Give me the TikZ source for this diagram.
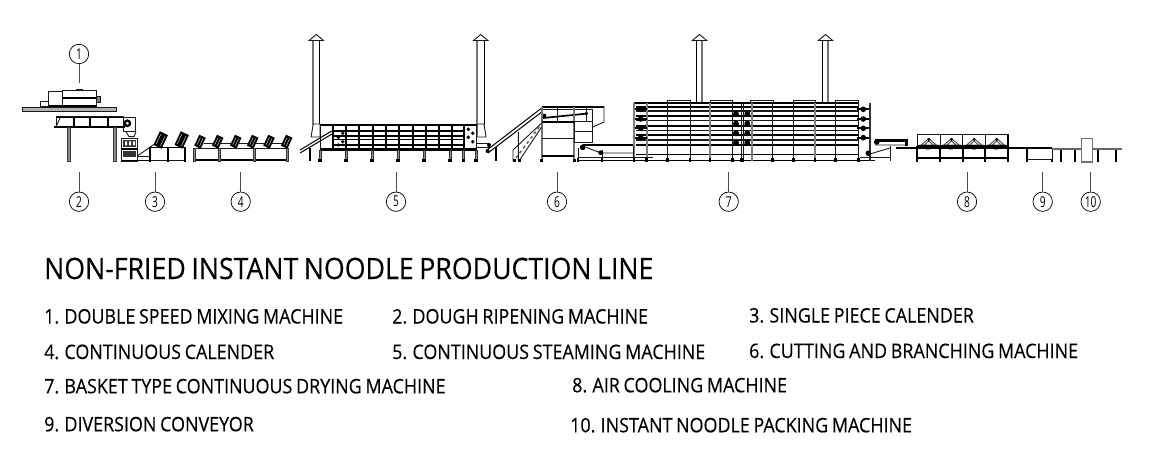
\documentclass[tikz,border=0pt]{standalone}
\usepackage{fontspec}
\setmainfont{Open Sans}
\newfontfamily\numfont[FakeStretch=0.68]{Open Sans}
\newfontfamily\capfont[FakeStretch=0.895,FakeBold=0.25,WordSpace=0.8]{Open Sans}
\newfontfamily\topfont[FakeStretch=0.908,FakeBold=0.25,WordSpace=0.8]{Open Sans}

\newcommand{\feedroll}[4]{%
  \fill[rotate around={-25:(#1,#2)}, black] (#1-#3,#2-#4) rectangle (#1+#3,#2+#4);
  \draw[rotate around={-25:(#1,#2)}, white, line width=0.35pt] (#1-#3+2.2,#2-#4+2) -- (#1-#3+2.2,#2+#4-2) (#1+#3-2.2,#2-#4+2) -- (#1+#3-2.2,#2+#4-2);
}
\newcommand{\stack}[2]{%
  \draw[bar] (#1-6,#2) -- (#1+6,#2);
  \fill[black] (#1,#2) circle (2.8);
}
\newcommand{\chimney}[5]{% x centre, half width, y bottom, left and right style
  \draw[#4] (#1-#2,#3) -- (#1-#2,40.5);
  \draw[#5] (#1+#2,#3) -- (#1+#2,40.5);
  \draw[mline, fill=white] (#1-7.2,40.5) -- (#1,34.5) -- (#1+7.2,40.5) -- cycle;
}

\begin{document}
\begin{tikzpicture}[
    x=1pt, y=-1pt,
    callout/.style={circle, draw, line width=0.7pt, minimum size=19.4pt, inner sep=0pt, font=\numfont\fontsize{15}{15}\selectfont},
    leader/.style={line width=0.9pt, black!70},
    mline/.style={line width=0.9pt, black!90},
    bar/.style={line width=1.7pt, black},
    gline/.style={line width=2.4pt, black!50},
    pipe/.style={line width=1pt, black},
    gpipe/.style={line width=1.9pt, black!55},
    post/.style={line width=0.6pt, black!80, fill=black!45},
    item/.style={anchor=base west, inner sep=0pt, font=\capfont\fontsize{20}{20}\selectfont},
    headline/.style={anchor=base west, inner sep=0pt, font=\topfont\fontsize{29.4}{29.4}\selectfont}
]
    \useasboundingbox (0,0) rectangle (1156,465);

    % 1 mixing machine
    \draw[mline, fill=black!30] (22.7,107.7) rectangle (116.7,111);
    \draw[mline] (48.3,91) rectangle (62,106.7);
    \draw[mline] (62,90) rectangle (96,106.7);
    \draw[bar] (62,98.3) -- (96,98.3) (48,106.2) -- (96,106.2);
    \draw[mline] (40.7,101) rectangle (48.3,106.7);
    \draw[mline, fill=black!50] (96,96) rectangle (100,102);
    \draw[mline] (76,90) -- (76,89) -- (82,89) -- (82,90);

    % 2 ripening machine
    \draw[mline] (56,116.7) rectangle (123,127);
    \draw[bar] (56,117.5) -- (135,117.5) (54,127) -- (125,127);
    \foreach \px in {74,90,108} \draw[bar] (\px,117.5) -- (\px,127);
    \draw[mline] (60,118) -- (56,127);
    \draw[mline] (123,117) rectangle (135,131.7);
    \fill[black] (127.3,123.3) circle (4);
    \fill[white] (127.3,123.3) circle (1.5);
    \foreach \px in {69,115} \draw[post] (\px-1.5,127) rectangle (\px+1.5,161.5);

    % 3 single piece calender
    \draw[mline] (126,131.7) -- (129,136.7) -- (134,136.7) -- (136,131.7);
    \draw[mline] (121.7,138) rectangle (137.3,161.7);
    \fill[black!80] (123,140) rectangle (136,147);
    \fill[white] (125,141.5) rectangle (127,145.5) (129,141.5) rectangle (131,145.5) (133,141.5) rectangle (135,145.5);
    \fill[black!80] (123,151) rectangle (136,157);
    \draw[bar] (121.7,149) -- (137.3,149) (121.7,160.5) -- (185,160.5);
    \draw[mline] (137.3,156) -- (156,143);
    \draw[mline] (150,147.5) rectangle (168,160.5);
    \draw[mline] (168,147.5) rectangle (185,160.5);
    \draw[mline] (137,156.5) -- (150,156.5);
    \draw[bar] (150,147.5) -- (185,147.5);
    \foreach \px in {150,168,185} \draw[bar] (\px,147.5) -- (\px,161.7);
    \feedroll{160.7}{140}{4.5}{7.5}
    \feedroll{181.7}{140}{4.5}{7.5}

    % 4 continuous calender
    \draw[mline] (194,148) rectangle (288,160);
    \draw[bar] (194,159.8) -- (288,159.8);
    \foreach \px in {194,219.3,254,287.3} \draw[post] (\px-1,148) rectangle (\px+1,161.7);
    \foreach \px in {200,217.7,235.7,252.7,269,286.7} \feedroll{\px}{141.7}{3.6}{6}
    \draw[mline] (204,143) -- (214,143) (221,143) -- (232,143) (239,143) -- (249,143) (256,143) -- (265,143) (272,143) -- (282,143);

    % 5 continuous steaming machine
    \chimney{316.3}{3}{125}{gpipe}{pipe}
    \chimney{480.7}{3.3}{125}{gpipe}{pipe}
    \draw[mline, fill=white] (313.3,124) -- (311,137) -- (320,137) -- (320,124) -- cycle;
    \draw[mline, fill=white] (477.3,124) -- (484,124) -- (486,137) -- (477,137) -- cycle;
    \draw[mline] (320,125) rectangle (476.7,150);
    \draw[bar] (320,125) -- (476.7,125);
    \draw[bar, line width=2.2pt] (320,149.5) -- (476.7,149.5);
    \foreach \py in {131,136,139.3,145} \draw[bar, line width=1.2pt] (333,\py) -- (465,\py);
    \foreach \px in {333.3,346,359.3,372.7,386,399.3,412.7,426,439.3,451.7,464} \draw[bar, line width=2pt] (\px,125) -- (\px,150);
    \foreach \px in {320,346,372,398,424,450,463.3,476} {
      \draw[post] (\px-1,150) rectangle (\px+1,161);
      \fill[black] (\px-1.6,159.5) rectangle (\px+1.6,161.7);
    }
    \draw[bar] (310,148) -- (310,161.5);
    \foreach \px/\py in {342.7/133.3,338.3/137.3,342.7/141.7,338.3/145,468.3/129.3,472.7/133.3,468.3/137.3,472.7/141.7}
      \fill[black] (\px,\py) circle (1.9);
    % feed belt in front of the steamer
    \draw[pipe] (300,150) -- (331.7,131) (300,153) -- (332,134);
    \draw[mline] (476.7,143) rectangle (489,147);
    \fill[black] (489,145) circle (2);

    % 6 cutting and branching machine
    \draw[pipe] (487,150) -- (541.7,108) (488,153) -- (541.7,112);
    \fill[black] (487.5,151) circle (2);
    \draw[bar] (495.7,147) -- (495.7,161.5);
    \draw[bar] (541.7,106.7) -- (604,106.7);
    \draw[mline] (592.7,106.7) -- (604,106.7) -- (604,122) -- (592.7,127);
    \draw[mline] (541.7,109) rectangle (592.7,121.7);
    \foreach \px in {557,573,586} \draw[mline] (\px,106.7) -- (\px,121.7);
    \draw[bar] (543,118) -- (588,113.5);
    \fill[black] (544,116) circle (2.4) (586,113.5) circle (1.6);
    \draw[gpipe] (541.7,106.7) -- (541.7,161);
    \draw[gpipe] (574,106.7) -- (574,161);
    \draw[bar] (541.7,121.7) -- (574,121.7) (541.7,155.7) -- (574,155.7);
    \draw[mline] (541.7,138.3) -- (574,138.3);
    \draw[mline] (574,121.7) rectangle (592.7,142.7);
    \draw[mline] (574,131.7) -- (592.7,131.7);
    \draw[mline] (513,161) -- (513,150) -- (541.7,123) (519,161) -- (541.7,127) (518.3,132) -- (518.3,161);
    \draw[black!60, dashed, line width=1.5pt] (516,158) -- (540,126);
    \foreach \px in {514,519,541.7,574} \fill[black] (\px-1.5,159.5) rectangle (\px+1.5,161.7);

    % 7 basket type continuous drying machine
    \chimney{699.5}{2.8}{103}{pipe}{gpipe}
    \chimney{825.5}{2.8}{103}{pipe}{gpipe}
    \foreach \px in {667.7,710,750.7,793.3,835.7} \draw[mline] (\px,103) -- (\px,100) -- (\px+22.3,100) -- (\px+22.3,103);
    \draw[bar] (634,103.3) -- (858.3,103.3) (578,160.5) -- (875,160.5);
    \foreach \py in {106.7,116,125.7,135,144.7} \draw[bar] (636,\py) -- (858.3,\py);
    \foreach \py in {111,120.7,130.3,140} \draw[mline, line width=1.1pt] (636,\py) -- (858.3,\py);
    \draw[bar, line width=1.2pt] (636,154.3) -- (858.3,154.3);
    \foreach \px in {667.7,690,732.7,741,743,772.7,793.3,835.7,858.3} \draw[mline] (\px,103) -- (\px,161);
    \foreach \px in {634,646.7,710,751.7,815} \draw[gline] (\px,103) -- (\px,161);
    \foreach \py in {109.3,119,128.3,137.7} {
      \stack{640.7}{\py}
      \stack{863.3}{\py}
    }
    \foreach \py in {114,123.7,133.3,142.7} {
      \fill[black] (736,\py) circle (3);
      \fill[black] (747.3,\py) circle (3);
    }
    \foreach \px in {578,602,634,646.7,667.7,690,710,732.7,741,743,772.7,793.3,815,835.7,858.3}
      \fill[black] (\px-1.4,158.5) rectangle (\px+1.4,161.7);
    % feed conveyor under cutter
    \draw[bar] (583,145) -- (633,145);
    \draw[mline] (586,147.3) -- (601,153) -- (633,153);
    \draw[mline] (578,157) -- (653,157) (578,148) -- (578,161) (602,150) -- (602,161) (633,146) -- (633,161);
    \fill[black] (582.7,147.3) circle (2.9);
    \fill[black] (600.7,152.7) circle (2.4);

    % discharge conveyor of the dryer
    \draw[gpipe, black!80] (870,103) -- (870,161);
    \draw[bar, line width=2.4pt] (875,140.5) -- (908,140.5);
    \fill[black] (905,139.3) rectangle (908.3,145.7);
    \draw[mline] (875,145) -- (905,145) (870,154) -- (890,148);
    \draw[mline] (860,157) -- (890,157) (890,146) -- (890,161);
    \fill[black] (876.7,142) circle (2.8);
    \fill[black] (868.3,153.3) circle (2.8);

    % 8 air cooling machine
    \draw[bar, line width=2pt] (896,148.3) -- (1026.7,148.3);
    \foreach \px in {917.3,940,962.7,985.3} {
      \draw[mline] (\px,134.7) rectangle (\px+22.8,146);
      \draw[mline, black!70] (\px+4,145) -- (\px+11.4,138.5) -- (\px+19,145) (\px+7,145) -- (\px+11.4,141) -- (\px+16,145) (\px+2,145) -- (\px+21,145);
      \fill[black] (\px+11.4,139.5) circle (1.6);
      \draw[bar] (\px,146) -- (\px+22.8,146) (\px,158.3) -- (\px+22.8,158.3);
      \draw[bar] (\px,146) -- (\px,161.7);
      \fill[black!40] (\px+9,149.3) rectangle (\px+13,150.5);
    }
    \draw[bar] (1008.3,134.7) -- (1008.3,161.7);

    % 9 diversion conveyor
    \draw[mline] (1026.7,148.3) rectangle (1052.3,159.3);
    \draw[bar] (1026.7,148.3) -- (1026.7,161.7) (1052.3,159.3) -- (1052.3,161.7);
    \draw[bar] (1026.7,148.3) -- (1052.3,148.3);

    % 10 packing machine
    \draw[gline, line width=2.2pt, black!60] (1052,149) -- (1081.7,149) (1092.3,149) -- (1121.7,149);
    \foreach \px in {1060.7,1075,1098.3,1116} {
      \draw[bar] (\px,150) -- (\px,161.7);
    }
    \draw[black!55, fill=white, line width=1.3pt] (1081.7,138.3) rectangle (1092.3,162);

    % Callouts
    \node[callout] (c1) at (79,54) {1};
    \node[callout] (c2) at (79,201.7) {2};
    \node[callout] (c3) at (155,201.7) {3};
    \node[callout] (c4) at (240.7,201.7) {4};
    \node[callout] (c5) at (396,201.7) {5};
    \node[callout] (c6) at (557,201.7) {6};
    \node[callout] (c7) at (728.7,201.7) {7};
    \node[callout] (c8) at (967,201.7) {8};
    \node[callout] (c9) at (1042.7,201.7) {9};
    \node[callout] (c10) at (1090.7,201.7) {10};

    \draw[leader] (c1) -- (79,83.5);
    \foreach \cname/\px in {c2/79,c3/155,c4/240.7,c5/396,c6/557,c7/728.7,c8/967,c9/1042.7,c10/1090.7}
      \draw[leader] (\cname) -- (\px,172.3);

    % Title and list
    \node[headline] (title) at (44,279) {NON-FRIED INSTANT NOODLE PRODUCTION LINE};
    \node[item] (m1) at (44,323.5) {1. DOUBLE SPEED MIXING MACHINE};
    \node[item] (m2) at (392,323.5) {2. DOUGH RIPENING MACHINE};
    \node[item] (m3) at (749,322.5) {3. SINGLE PIECE CALENDER};
    \node[item] (m4) at (44,359) {4. CONTINUOUS CALENDER};
    \node[item] (m5) at (392,359) {5. CONTINUOUS STEAMING MACHINE};
    \node[item] (m6) at (749,358) {6. CUTTING AND BRANCHING MACHINE};
    \node[item] (m7) at (44,393.3) {7. BASKET TYPE CONTINUOUS DRYING MACHINE};
    \node[item] (m8) at (572,392.3) {8. AIR COOLING MACHINE};
    \node[item] (m9) at (44,431.3) {9. DIVERSION CONVEYOR};
    \node[item] (m10) at (570,432.3) {10. INSTANT NOODLE PACKING MACHINE};
\end{tikzpicture}
\end{document}
